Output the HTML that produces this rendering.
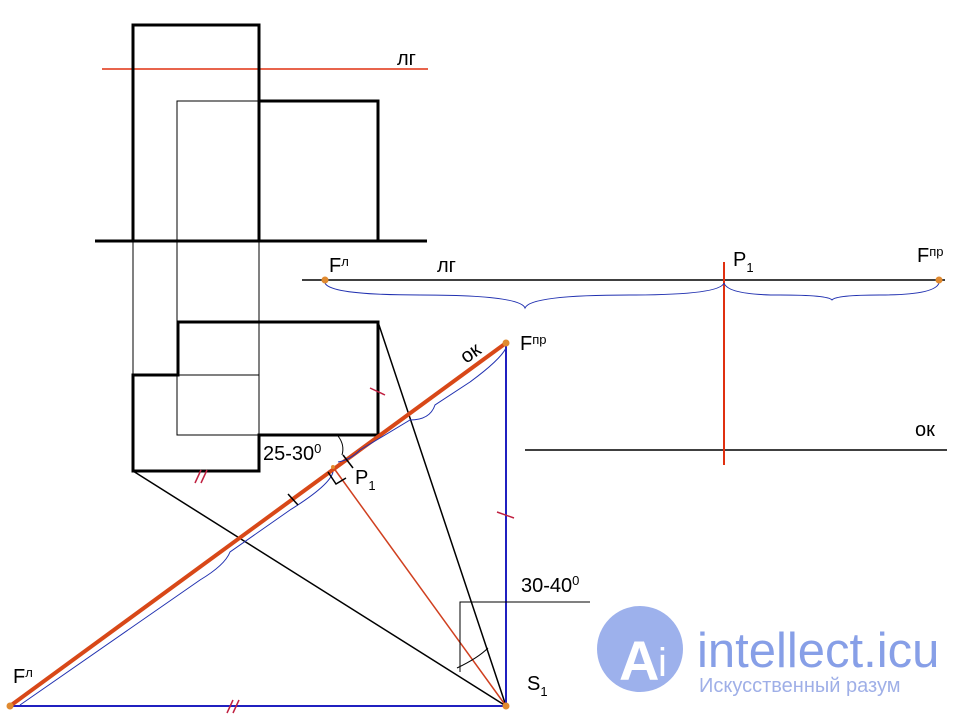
<!DOCTYPE html>
<html><head><meta charset="utf-8"><style>body{margin:0;background:#fff}svg{display:block}text{font-family:"Liberation Sans",sans-serif}</style></head><body>
<svg width="960" height="720" viewBox="0 0 960 720" xmlns="http://www.w3.org/2000/svg">
<g fill="none" stroke="#000">
<line x1="102" y1="69" x2="428" y2="69" stroke="#e03010" stroke-width="1.5"/>
<rect x="133" y="25" width="126" height="216" stroke-width="3"/>
<polyline points="259,101 378,101 378,241" stroke-width="3"/>
<line x1="95" y1="241" x2="427" y2="241" stroke-width="3"/>
<rect x="177" y="101" width="82" height="334" stroke-width="1"/>
<line x1="133" y1="241" x2="133" y2="375" stroke-width="1"/>
<line x1="178" y1="375" x2="259" y2="375" stroke-width="1"/>
<polygon points="133,471 133,375 178,375 178,322 378,322 378,435 259,435 259,471" stroke-width="3"/>
<line x1="133" y1="471" x2="506" y2="706" stroke-width="1.5"/>
<line x1="378" y1="322" x2="506" y2="706" stroke-width="1.5"/>
<line x1="302" y1="280" x2="945" y2="280" stroke-width="1.5"/>
<line x1="525" y1="450" x2="947" y2="450" stroke-width="1.5"/>
<line x1="724" y1="262" x2="724" y2="465" stroke="#e03010" stroke-width="2"/>
<line x1="10" y1="706" x2="506" y2="706" stroke="#2020c0" stroke-width="2"/>
<line x1="506" y1="343" x2="506" y2="706" stroke="#2020c0" stroke-width="2"/>
<line x1="333" y1="467" x2="506" y2="706" stroke="#d04020" stroke-width="1.5"/>
<line x1="10" y1="706" x2="506" y2="343" stroke="#d84818" stroke-width="4"/>
<path d="M325,283 Q330,295 420,295 Q520,295 525,308 Q530,295 630,295 Q720,295 724,283" stroke="#2030b0" stroke-width="1"/>
<path d="M724,283 Q728,295 780,295 Q828,295 832,300 Q836,295 880,295 Q935,295 939,283" stroke="#2030b0" stroke-width="1"/>
<path d="M506,348 Q500,360 470,382 L435,405 Q430,420 410,420 L360,450 Q350,460 338,462" stroke="#2030b0" stroke-width="1"/>
<path d="M333,472 Q330,485 290,510 L230,552 Q225,565 200,580 L20,705" stroke="#2030b0" stroke-width="1"/>
<line x1="370" y1="388" x2="385" y2="395" stroke="#c02040" stroke-width="1.5"/>
<line x1="497" y1="512" x2="514" y2="518" stroke="#c02040" stroke-width="1.5"/>
<line x1="195" y1="483" x2="201" y2="470" stroke="#c02040" stroke-width="1.5"/>
<line x1="201" y1="483" x2="207" y2="470" stroke="#c02040" stroke-width="1.5"/>
<line x1="227" y1="713" x2="233" y2="700" stroke="#c02040" stroke-width="1.5"/>
<line x1="233" y1="713" x2="239" y2="700" stroke="#c02040" stroke-width="1.5"/>
<line x1="343" y1="455" x2="353" y2="468" stroke-width="1.5"/>
<line x1="288" y1="494" x2="298" y2="505" stroke-width="1.5"/>
<path d="M328,472 L336,484 L346,478" stroke-width="1.5"/>
<path d="M338,436 Q345,445 342,455" stroke-width="1"/>
<polyline points="460,672 460,602 590,602" stroke-width="1"/>
<path d="M457,668 Q478,658 488,648" stroke-width="1"/>
</g>
<g fill="#e08a30"><circle cx="325" cy="280" r="3.5"/><circle cx="939" cy="280" r="3.5"/><circle cx="506" cy="343" r="3.5"/><circle cx="10" cy="706" r="3.5"/><circle cx="506" cy="706" r="3.5"/><circle cx="333" cy="467" r="2"/></g>
<g font-size="20" fill="#000">
<text x="397" y="65">лг</text>
<text x="437" y="272">лг</text>
<text x="329" y="272">F<tspan font-size="13" dy="-6">л</tspan></text>
<text x="733" y="266">P<tspan font-size="13" dy="6">1</tspan></text>
<text x="917" y="262">F<tspan font-size="13" dy="-6">пр</tspan></text>
<text x="915" y="436">ок</text>
<text x="520" y="350">F<tspan font-size="13" dy="-6">пр</tspan></text>
<text x="0" y="0" transform="translate(466,364) rotate(-35)">ок</text>
<text x="263" y="460">25-30<tspan font-size="13" dy="-7">0</tspan></text>
<text x="355" y="484">P<tspan font-size="13" dy="6">1</tspan></text>
<text x="521" y="592">30-40<tspan font-size="13" dy="-7">0</tspan></text>
<text x="13" y="683">F<tspan font-size="13" dy="-6">л</tspan></text>
<text x="527" y="690">S<tspan font-size="13" dy="6">1</tspan></text>
</g>
<g opacity="0.75">
<circle cx="640" cy="649" r="43" fill="#7d97e6"/>
<text x="619" y="680" font-size="56" fill="#fff" font-weight="bold">A</text>
<text x="658" y="676" font-size="40" fill="#fff">i</text>
<text x="697" y="667" font-size="49" fill="#5f7fe0">intellect.icu</text>
<text x="699" y="692" font-size="20" fill="#7f95e0">Искусственный  разум</text>
</g>
</svg>
</body></html>
